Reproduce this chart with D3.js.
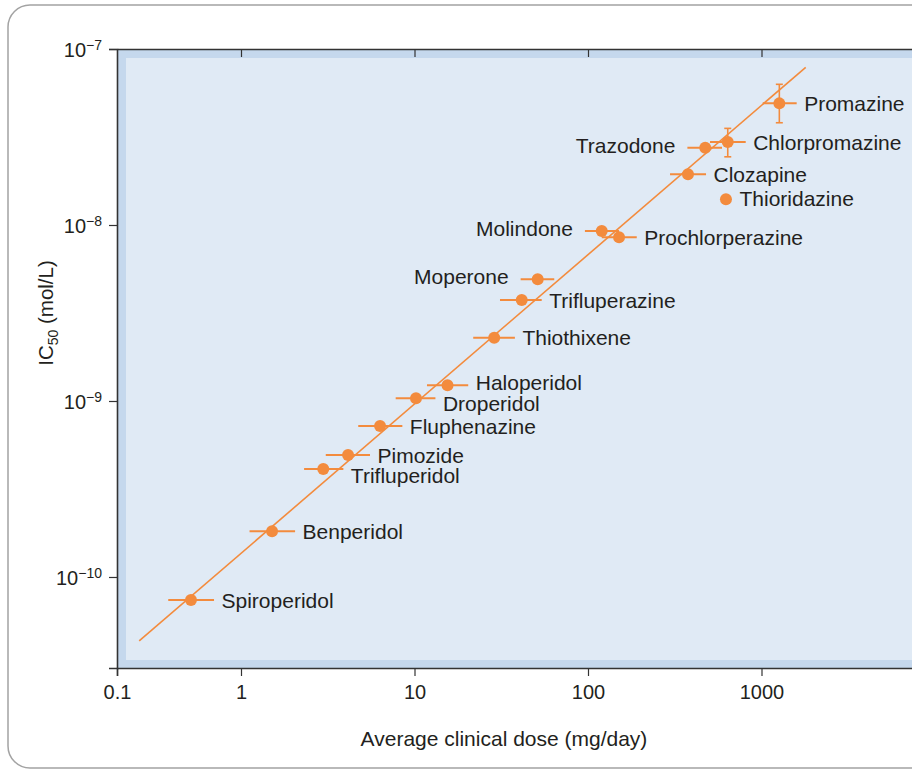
<!DOCTYPE html>
<html>
<head>
<meta charset="utf-8">
<script src="https://cdn.jsdelivr.net/npm/d3@7"></script>
<style>
  html, body { margin: 0; padding: 0; background: #ffffff; }
  svg { display: block; font-family: "Liberation Sans", Arial, Helvetica, sans-serif; }
</style>
</head>
<body>
<div id="chart"></div>
<script>
// ---------------- data ----------------
const drugs = ["Spiroperidol","Benperidol","Trifluperidol","Pimozide","Fluphenazine","Droperidol",
  "Haloperidol","Thiothixene","Trifluperazine","Moperone","Molindone","Prochlorperazine",
  "Clozapine","Thioridazine","Trazodone","Chlorpromazine","Promazine"];
const dose     = [0.395, 1.51, 2.98, 4.14, 6.33, 10.2, 15.5, 28.8, 41.5, 51.3, 120, 151, 377, 624, 474, 639, 1267];
const doseLow  = [0.259, 1.12, 2.31, 3.08, 4.74, 7.79, 11.8, 21.8, 31.1, 40.9, 96, 120, 297, null, 374, 505, 1016];
const doseHigh = [0.606, 2.05, 3.89, 5.54, 8.51, 13.2, 20.4, 37.9, 54.1, 63.9, 151, 191, 479, null, 592, 811, 1595];
const ic50     = [7.4e-11, 1.82e-10, 4.11e-10, 4.93e-10, 7.21e-10, 1.035e-9, 1.23e-9, 2.29e-9, 3.75e-9,
                  4.91e-9, 9.25e-9, 8.51e-9, 1.94e-8, 1.40e-8, 2.75e-8, 2.96e-8, 4.91e-8];
const ic50Low  = [null,null,null,null,null,null,null,null,null,null,null,null,null,null,null,2.44e-8,3.81e-8];
const ic50High = [null,null,null,null,null,null,null,null,null,null,null,null,null,null,null,3.54e-8,6.30e-8];
// regression line end points (dose, IC50)
const fitDose = [0.151, 1798];
const fitIC50 = [4.33e-11, 7.87e-8];
// axis tick values and labels
const xTicks = [0.1, 1, 10, 100, 1000];
const xTickLabels = ["0.1", "1", "10", "100", "1000"];
const yTicks = [1e-7, 1e-8, 1e-9, 1e-10];
const yTickExp = ["\u22127", "\u22128", "\u22129", "\u221210"];
const xTitle = "Average clinical dose (mg/day)";

// label layout (annotation placement, not data)
const labelLeft = ["Trazodone", "Molindone", "Moperone"];
const labelDy = {Droperidol: 5, Trifluperidol: 6, Molindone: -3, Moperone: -2.5, Haloperidol: -2.5, Trazodone: -2.5, Thioridazine: -1};

// ---------------- layout ----------------
const W = 912, H = 769;
const orange = "#f38b3d";
const ink = "#231f20";

const svg = d3.select("#chart").append("svg").attr("width", W).attr("height", H);

// axis scales (x axis: origin labelled 0.1, decades from 1 upward)
const x = d3.scaleLog().domain([0.1, 1, 10000]).range([117, 241, 935]);
const y = d3.scaleLog().domain([1e-7, 3.04e-11]).range([49, 668]);

const x0 = x(0.1), x1 = x(10000), y0 = y(1e-7), y1 = y(3.04e-11);

// outer frame
svg.append("rect").attr("x", 8).attr("y", 5).attr("width", 1000).attr("height", 763)
  .attr("rx", 22).attr("fill", "none").attr("stroke", "#a3a3a3").attr("stroke-width", 1.5);

// plot background
svg.append("rect").attr("x", x0).attr("y", y0).attr("width", x1 - x0).attr("height", y1 - y0)
  .attr("fill", "#c5d8ed");
svg.append("rect").attr("x", x0 + 9).attr("y", y0 + 9).attr("width", x1 - x0).attr("height", y1 - y0 - 17)
  .attr("fill", "#e0eaf5");

// axes
const axisStyle = g => {
  g.selectAll(".domain").attr("stroke", "#333").attr("stroke-width", 1.6);
  g.selectAll(".tick line").attr("stroke", "#333").attr("stroke-width", 1.2);
  g.selectAll("text").attr("fill", ink).style("font-size", "20px")
    .style("font-family", "'Liberation Sans', Arial, sans-serif");
};

svg.append("g").attr("transform", `translate(0,${y1})`)
  .call(d3.axisBottom(x).tickValues(xTicks).tickFormat((d, i) => xTickLabels[i])
    .tickSize(8).tickSizeOuter(8).tickPadding(9))
  .call(axisStyle);

svg.append("g").attr("transform", `translate(0,${y0})`)
  .call(d3.axisTop(x).tickValues(xTicks.slice(1)).tickFormat("").tickSize(-8).tickSizeOuter(0))
  .call(axisStyle);

const yAxisG = svg.append("g").attr("transform", `translate(${x0},0)`)
  .call(d3.axisLeft(y).tickValues(yTicks).tickSize(8).tickSizeOuter(8).tickPadding(7).tickFormat(() => ""))
  .call(axisStyle);
yAxisG.selectAll(".tick text").each(function(d, i) {
  const t = d3.select(this).attr("dy", "0.36em");
  t.append("tspan").text("10");
  t.append("tspan").attr("dy", -7).style("font-size", "14px").text(yTickExp[i]);
});

// axis titles
svg.append("text").attr("x", 504).attr("y", 746).attr("text-anchor", "middle")
  .attr("fill", ink).style("font-size", "21px").text(xTitle);

const yt = svg.append("text").attr("transform", "translate(53,313) rotate(-90)")
  .attr("text-anchor", "middle").attr("fill", ink).style("font-size", "20.5px");
yt.append("tspan").text("IC");
yt.append("tspan").attr("dy", 5).style("font-size", "14px").text("50");
yt.append("tspan").attr("dy", -5).text(" (mol/L)");

// clip to plot area
svg.append("clipPath").attr("id", "plotclip").append("rect")
  .attr("x", x0).attr("y", y0).attr("width", x1 - x0).attr("height", y1 - y0);
const plot = svg.append("g").attr("clip-path", "url(#plotclip)");

// regression line
const fit = fitDose.map((d, i) => [d, fitIC50[i]]);
plot.append("path").datum(fit)
  .attr("d", d3.line().x(d => x(d[0])).y(d => y(d[1])))
  .attr("fill", "none").attr("stroke", orange).attr("stroke-width", 1.6);

const rows = drugs.map((name, i) => ({
  name, dose: dose[i], lo: doseLow[i], hi: doseHigh[i], ic: ic50[i], ylo: ic50Low[i], yhi: ic50High[i]
}));

// horizontal error bars
plot.selectAll("line.xerr").data(rows.filter(r => r.lo != null)).join("line")
  .attr("class", "xerr")
  .attr("x1", r => x(r.lo)).attr("x2", r => x(r.hi))
  .attr("y1", r => y(r.ic)).attr("y2", r => y(r.ic))
  .attr("stroke", orange).attr("stroke-width", 2);

// vertical error bars with caps
const yerr = rows.filter(r => r.ylo != null);
plot.selectAll("line.yerr").data(yerr).join("line")
  .attr("class", "yerr")
  .attr("x1", r => x(r.dose)).attr("x2", r => x(r.dose))
  .attr("y1", r => y(r.ylo)).attr("y2", r => y(r.yhi))
  .attr("stroke", orange).attr("stroke-width", 1.6);
["ylo", "yhi"].forEach(k => {
  plot.selectAll("line.cap-" + k).data(yerr).join("line")
    .attr("class", "cap-" + k)
    .attr("x1", r => x(r.dose) - 3.5).attr("x2", r => x(r.dose) + 3.5)
    .attr("y1", r => y(r[k])).attr("y2", r => y(r[k]))
    .attr("stroke", orange).attr("stroke-width", 1.6);
});

// points
plot.selectAll("circle.pt").data(rows).join("circle")
  .attr("class", "pt")
  .attr("cx", r => x(r.dose)).attr("cy", r => y(r.ic)).attr("r", 6)
  .attr("fill", orange);

// labels
plot.selectAll("text.lbl").data(rows).join("text")
  .attr("class", "lbl")
  .attr("x", r => {
    const left = labelLeft.includes(r.name);
    if (left) return (r.lo != null ? x(r.lo) : x(r.dose) - 6) - 12;
    return (r.hi != null ? x(r.hi) : x(r.dose) + 6) + 7.5;
  })
  .attr("y", r => y(r.ic) + (labelDy[r.name] || 0))
  .attr("dy", "0.36em")
  .attr("text-anchor", r => labelLeft.includes(r.name) ? "end" : "start")
  .attr("fill", ink).style("font-size", "21px")
  .text(r => r.name);
</script>
</body>
</html>
